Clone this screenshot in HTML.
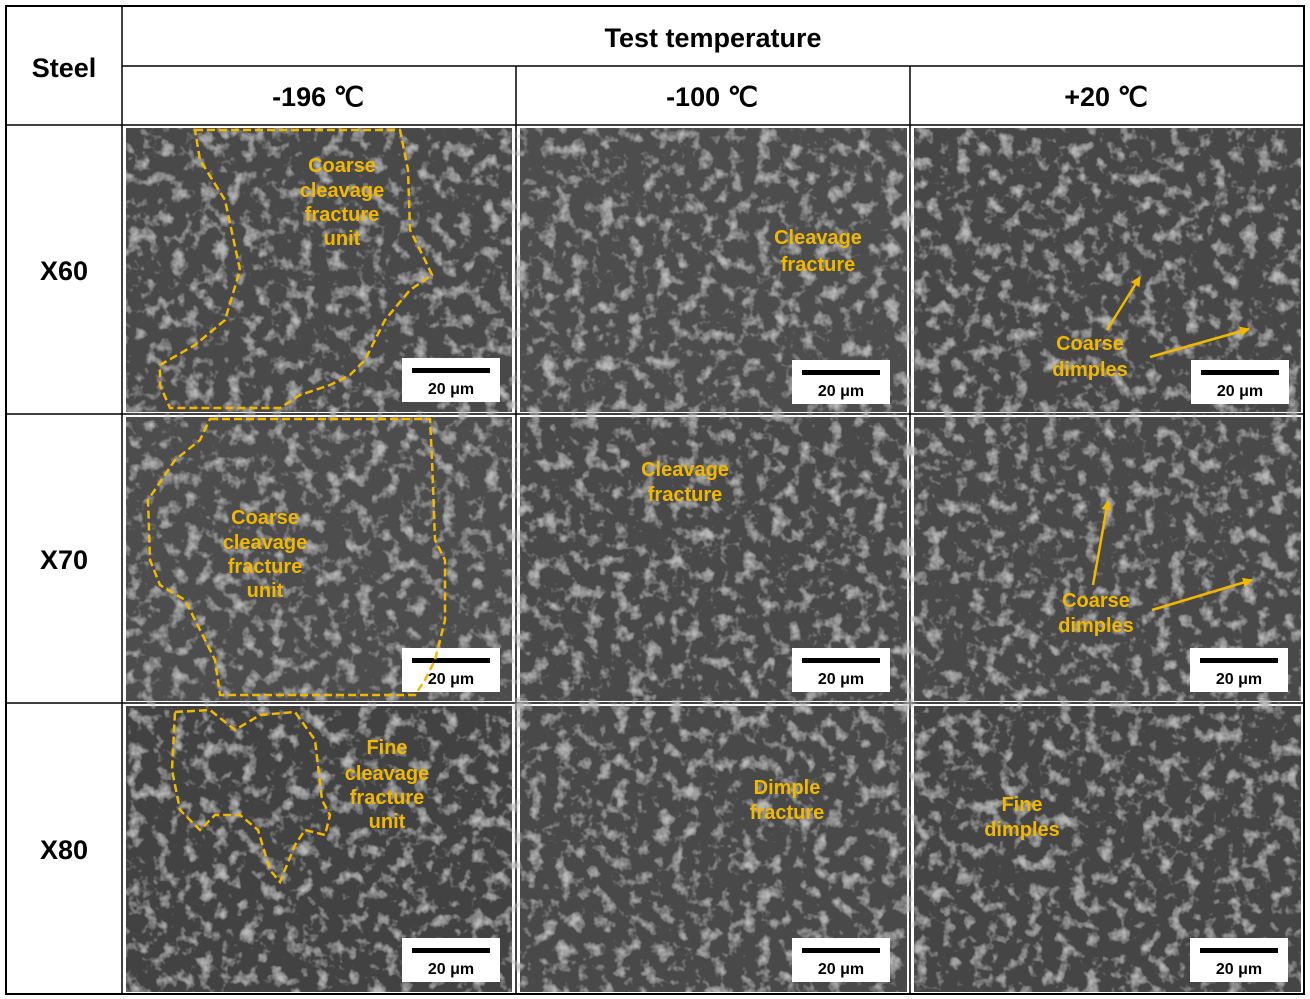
<!DOCTYPE html>
<html><head><meta charset="utf-8"><style>
html,body{margin:0;padding:0;background:#fff;}
svg{display:block;}
.h{font-family:"Liberation Sans",sans-serif;font-weight:bold;fill:#000;}
.l{font-family:"Liberation Sans",sans-serif;font-weight:bold;fill:#f2b800;font-size:20px;text-anchor:middle;}
.s{font-family:"Liberation Sans",sans-serif;font-weight:bold;fill:#000;font-size:16px;text-anchor:middle;}
</style></head><body>
<svg width="1310" height="999" viewBox="0 0 1310 999" xmlns="http://www.w3.org/2000/svg">
<defs>
<filter id="sem" x="0" y="0" width="100%" height="100%">
<feTurbulence type="fractalNoise" baseFrequency="0.07" numOctaves="3" seed="3" result="n"/>
<feColorMatrix in="n" type="matrix" values="0 0 0 0 0  0 0 0 0 0  0 0 0 0 0  3 0 0 0 -1.55" result="a"/>
<feFlood flood-color="#b8b8b8" result="w"/>
<feComposite in="w" in2="a" operator="in" result="wl"/>
<feMerge><feMergeNode in="SourceGraphic"/><feMergeNode in="wl"/></feMerge>
</filter>
<marker id="ar" markerWidth="10" markerHeight="10" refX="9" refY="5" orient="auto" markerUnits="userSpaceOnUse"><path d="M0,0 L10,5 L0,10z" fill="#f2b800"/></marker>
<g id="sb"><rect x="0" y="0" width="98" height="44" fill="#fff"/><rect x="10" y="10" width="78" height="5" fill="#000"/><text class="s" x="49" y="36">20 μm</text></g>
</defs>
<rect x="6" y="6" width="1298" height="988" fill="#fff" stroke="#000" stroke-width="2"/>
<line x1="122" y1="6" x2="122" y2="994" stroke="#000" stroke-width="1.5"/>
<line x1="122" y1="66" x2="1304" y2="66" stroke="#000" stroke-width="1.5"/>
<line x1="6" y1="125" x2="1304" y2="125" stroke="#000" stroke-width="1.5"/>
<line x1="6" y1="414" x2="1304" y2="414" stroke="#000" stroke-width="1.5"/>
<line x1="6" y1="703" x2="1304" y2="703" stroke="#000" stroke-width="1.5"/>
<line x1="516" y1="66" x2="516" y2="994" stroke="#000" stroke-width="1.5"/>
<line x1="910" y1="66" x2="910" y2="994" stroke="#000" stroke-width="1.5"/>
<text class="h" x="64" y="77" font-size="27" text-anchor="middle">Steel</text>
<text class="h" x="713" y="47" font-size="27" text-anchor="middle">Test temperature</text>
<text class="h" x="318" y="106" font-size="27" text-anchor="middle">-196 ℃</text>
<text class="h" x="712" y="106" font-size="27" text-anchor="middle">-100 ℃</text>
<text class="h" x="1106" y="106" font-size="27" text-anchor="middle">+20 ℃</text>
<text class="h" x="64" y="280" font-size="27" text-anchor="middle">X60</text>
<text class="h" x="64" y="569" font-size="27" text-anchor="middle">X70</text>
<text class="h" x="64" y="859" font-size="27" text-anchor="middle">X80</text>
<g filter="url(#sem)">
<rect x="126" y="128" width="386" height="284" fill="#4a4a4a"/>
<rect x="520" y="128" width="387" height="284" fill="#4d4d4d"/>
<rect x="914" y="128" width="387" height="284" fill="#474747"/>
<rect x="126" y="417" width="386" height="284" fill="#4d4d4d"/>
<rect x="520" y="417" width="387" height="284" fill="#484848"/>
<rect x="914" y="417" width="387" height="284" fill="#4a4a4a"/>
<rect x="126" y="706" width="386" height="286" fill="#424242"/>
<rect x="520" y="706" width="387" height="286" fill="#4a4a4a"/>
<rect x="914" y="706" width="387" height="286" fill="#454545"/>
</g>
<use href="#sb" x="402" y="358"/><use href="#sb" x="792" y="360"/><use href="#sb" x="1191" y="360"/>
<use href="#sb" x="402" y="648"/><use href="#sb" x="792" y="648"/><use href="#sb" x="1190" y="648"/>
<use href="#sb" x="402" y="938"/><use href="#sb" x="792" y="938"/><use href="#sb" x="1190" y="938"/>
<g fill="none" stroke="#f2b800" stroke-width="2.5" stroke-dasharray="8 4">
<polygon points="195,130 400,130 408,170 410,230 425,260 432,275 410,290 385,320 365,360 350,375 330,385 300,395 280,408 170,408 160,385 160,365 195,345 225,320 240,270 225,200 200,160"/>
<polygon points="210,419 430,419 432,460 435,540 445,560 445,620 435,660 425,680 415,695 220,695 215,660 200,630 185,600 160,585 150,560 148,500 175,460 200,440"/>
<polygon points="175,712 210,710 235,730 260,715 295,712 315,740 322,800 330,815 325,835 305,830 295,845 280,882 270,870 258,830 240,815 215,815 200,830 180,810 172,770"/>
</g>
<text class="l" x="342" y="172">Coarse</text><text class="l" x="342" y="197">cleavage</text><text class="l" x="342" y="221">fracture</text><text class="l" x="342" y="245">unit</text>
<text class="l" x="818" y="244" font-size="22">Cleavage</text><text class="l" x="818" y="271" font-size="22">fracture</text>
<text class="l" x="1090" y="350">Coarse</text><text class="l" x="1090" y="376">dimples</text>
<text class="l" x="265" y="524">Coarse</text><text class="l" x="265" y="549">cleavage</text><text class="l" x="265" y="573">fracture</text><text class="l" x="265" y="597">unit</text>
<text class="l" x="685" y="476">Cleavage</text><text class="l" x="685" y="501">fracture</text>
<text class="l" x="1096" y="607">Coarse</text><text class="l" x="1096" y="632">dimples</text>
<text class="l" x="387" y="754">Fine</text><text class="l" x="387" y="780">cleavage</text><text class="l" x="387" y="804">fracture</text><text class="l" x="387" y="828">unit</text>
<text class="l" x="787" y="794">Dimple</text><text class="l" x="787" y="819">fracture</text>
<text class="l" x="1022" y="811">Fine</text><text class="l" x="1022" y="836">dimples</text>
<g stroke="#f2b800" stroke-width="2.5" marker-end="url(#ar)">
<line x1="1107" y1="330" x2="1140" y2="277"/>
<line x1="1150" y1="357" x2="1249" y2="329"/>
<line x1="1093" y1="585" x2="1108" y2="501"/>
<line x1="1152" y1="610" x2="1252" y2="580"/>
</g>
</svg>
</body></html>
